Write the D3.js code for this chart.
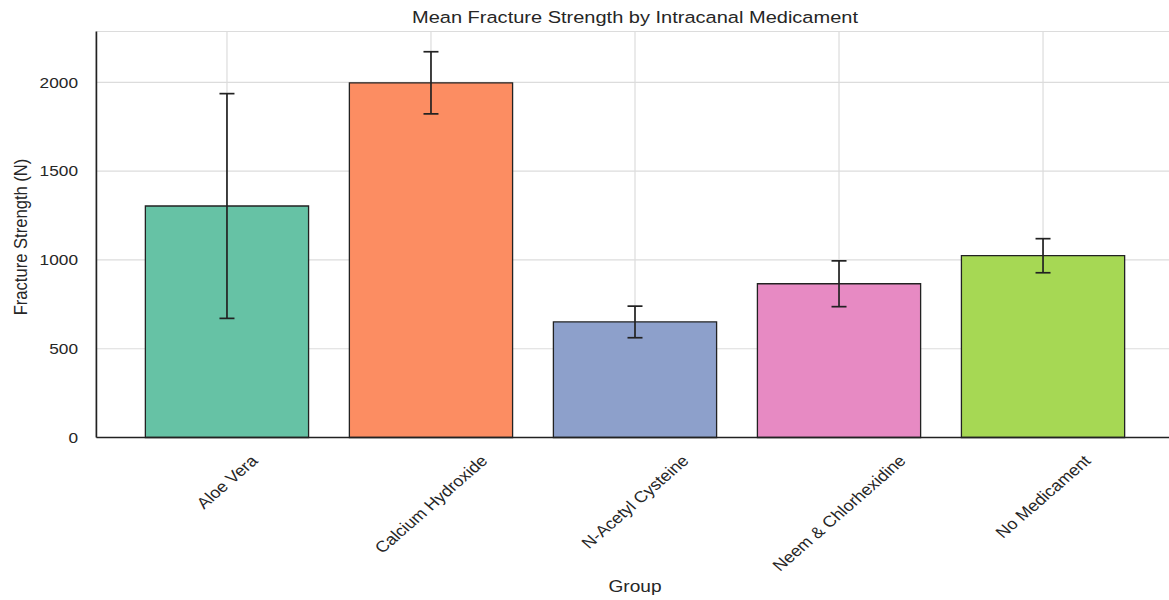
<!DOCTYPE html>
<html>
<head>
<meta charset="utf-8">
<script src="https://cdn.jsdelivr.net/npm/d3@7"></script>
<style>
  body { margin: 0; background: #fff; }
  svg { display: block; font-family: "Liberation Sans", Arial, sans-serif; }
  line, rect { vector-effect: non-scaling-stroke; }
</style>
</head>
<body>
<svg id="chart" width="1169" height="600"></svg>
<script>
const groups = ["Aloe Vera", "Calcium Hydroxide", "N-Acetyl Cysteine", "Neem & Chlorhexidine", "No Medicament"];
const means = [1304, 1998, 651, 866, 1024];
const sds = [633, 175, 89, 129, 96];
const colors = ["#66c2a5", "#fc8d62", "#8da0cb", "#e78ac3", "#a6d854"];
const yTicks = [0, 500, 1000, 1500, 2000];

// the reference is a little wider than tall in its glyphs, so the whole
// drawing is stretched horizontally; x values below are in screen pixels
const SX = 1.15;
const W = 1169, H = 600;
const svg = d3.select("#chart")
  .attr("viewBox", `0 0 ${W / SX} ${H}`)
  .attr("preserveAspectRatio", "none");
const px = v => v / SX;

const plotLeft = 96.4, plotRight = 1173.6, plotTop = 31.5, plotBottom = 437.5;
const ink = "#262626";

const x = d3.scaleBand()
  .domain(groups)
  .range([px(plotLeft), px(plotRight)])
  .paddingInner(0.2)
  .paddingOuter(0.24);
const cx = d => x(d) + x.bandwidth() / 2;

const y = d3.scaleLinear()
  .domain([0, 2287])
  .range([plotBottom, plotTop]);

const grid = svg.append("g").attr("stroke", "#dcdcdc").attr("stroke-width", 1.2);

grid.selectAll(".hg")
  .data(yTicks)
  .join("line")
  .attr("x1", px(plotLeft)).attr("x2", px(plotRight))
  .attr("y1", d => y(d)).attr("y2", d => y(d));

grid.selectAll(".vg")
  .data(groups)
  .join("line")
  .attr("x1", cx).attr("x2", cx)
  .attr("y1", plotTop).attr("y2", plotBottom);

// top border
grid.append("line")
  .attr("x1", px(plotLeft)).attr("x2", px(plotRight))
  .attr("y1", plotTop).attr("y2", plotTop);

// bars
svg.selectAll(".bar")
  .data(groups)
  .join("rect")
  .attr("x", d => x(d))
  .attr("y", (d, i) => y(means[i]))
  .attr("width", x.bandwidth())
  .attr("height", (d, i) => plotBottom - y(means[i]))
  .attr("fill", (d, i) => colors[i])
  .attr("stroke", "#222")
  .attr("stroke-width", 1.3);

// error bars
const err = svg.append("g").attr("stroke", "#222").attr("stroke-width", 1.7);
const cap = px(7.5);
groups.forEach((g, i) => {
  const c = cx(g);
  const hi = y(means[i] + sds[i]);
  const lo = y(means[i] - sds[i]);
  err.append("line").attr("x1", c).attr("x2", c).attr("y1", hi).attr("y2", lo);
  err.append("line").attr("x1", c - cap).attr("x2", c + cap).attr("y1", hi).attr("y2", hi);
  err.append("line").attr("x1", c - cap).attr("x2", c + cap).attr("y1", lo).attr("y2", lo);
});

// spines
svg.append("line")
  .attr("x1", px(plotLeft)).attr("x2", px(plotLeft))
  .attr("y1", plotTop).attr("y2", plotBottom)
  .attr("stroke", "#222").attr("stroke-width", 1.7);
svg.append("line")
  .attr("x1", px(plotLeft)).attr("x2", px(plotRight))
  .attr("y1", plotBottom).attr("y2", plotBottom)
  .attr("stroke", "#222").attr("stroke-width", 1.7);

// y tick labels
svg.selectAll(".yt")
  .data(yTicks)
  .join("text")
  .attr("x", px(78))
  .attr("y", d => y(d))
  .attr("dy", "0.35em")
  .attr("text-anchor", "end")
  .attr("font-size", 15)
  .attr("fill", ink)
  .text(d => d);

// x tick labels, rotated 45deg, bounding box centred on the tick
const xFont = 15.6;
svg.selectAll(".xt")
  .data(groups)
  .join("text")
  .attr("text-anchor", "middle")
  .attr("dy", "0.35em")
  .attr("font-size", xFont)
  .attr("fill", ink)
  .text(d => d)
  .each(function(d) {
    const L = this.getComputedTextLength();
    const boxH = (L + 0.9 * xFont) * Math.SQRT1_2;
    const cy = 453 + boxH / 2;
    d3.select(this).attr("transform", `translate(${cx(d)},${cy}) rotate(-45)`);
  });

// title
svg.append("text")
  .attr("x", px((plotLeft + plotRight) / 2))
  .attr("y", 23.5)
  .attr("text-anchor", "middle")
  .attr("font-size", 17.4)
  .attr("fill", ink)
  .text("Mean Fracture Strength by Intracanal Medicament");

// axis labels
svg.append("text")
  .attr("x", px((plotLeft + plotRight) / 2))
  .attr("y", 592)
  .attr("text-anchor", "middle")
  .attr("font-size", 16.6)
  .attr("fill", ink)
  .text("Group");

svg.append("text")
  .attr("transform", `translate(${px(27)},${237}) rotate(-90)`)
  .attr("text-anchor", "middle")
  .attr("font-size", 16.6)
  .attr("fill", ink)
  .text("Fracture Strength (N)");
</script>
</body>
</html>
